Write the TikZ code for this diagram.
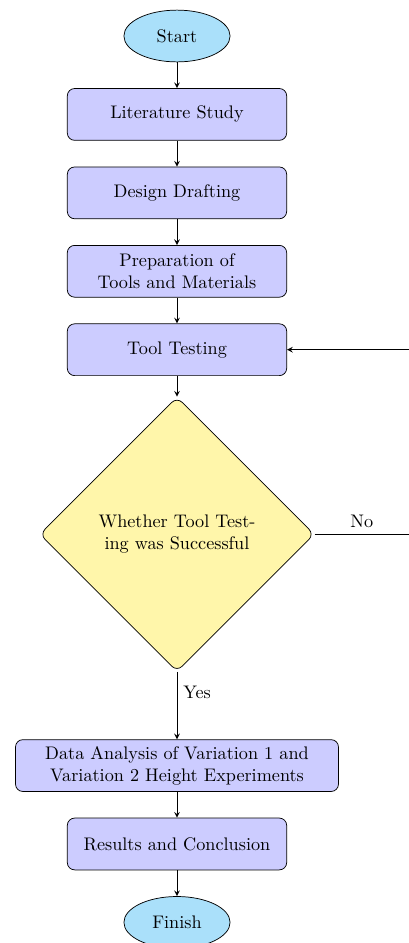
\documentclass[tikz,border=0pt]{standalone}
\usepackage{amsmath}
\usepackage{tikz}
\usetikzlibrary{shapes.geometric,positioning}

\definecolor{termfill}{RGB}{170,224,250}
\definecolor{askfill}{RGB}{255,246,170}

\begin{document}
\begin{tikzpicture}[node distance=0.5cm, auto, >=stealth,
	termnode/.style={ellipse,draw=black,fill=termfill,minimum width=2.05cm,minimum height=1cm},
	stepnode/.style={rectangle,draw=black,fill=blue!20,rounded corners,text width=4cm,align=center,minimum height=1cm},
	asknode/.style={diamond,draw=black,fill=askfill,rounded corners,align=center,inner sep=0pt,minimum width=5.3cm,minimum height=5.3cm}]
	\useasboundingbox (-3.417,0.695) rectangle (4.479,-17.51);
	\node[termnode] (Start) at (0,0) {Start};
	\node[stepnode] (LitStudy) [below = of Start] {Literature Study};
	\node[stepnode] (Drafting) [below = of LitStudy] {Design Drafting};
	\node[stepnode] (Prepare) [below = of Drafting] {Preparation of\\Tools and Materials};
	\node[stepnode] (ToolTest) [below = of Prepare] {Tool Testing};
	\node[asknode] (Success) [below = 0.4cm of ToolTest] {Whether Tool Test-\\ing was Successful};
	\node[stepnode, text width=6cm] (Analysis) [below = 1.3cm of Success] {Data Analysis of Variation 1 and Variation 2 Height Experiments};
	\node[stepnode] (Results) [below = of Analysis] {Results and Conclusion};
	\node[termnode] (Finish) [below = of Results] {Finish};
	\coordinate (RightEdge) at (4.479,0);
	\coordinate (NoEnd) at (Success.east -| RightEdge);
	\coordinate (BackIn) at (ToolTest.east -| RightEdge);
	\path[->] (Start) edge (LitStudy);
	\path[->] (LitStudy) edge (Drafting);
	\path[->] (Drafting) edge (Prepare);
	\path[->] (Prepare) edge (ToolTest);
	\path[->] (ToolTest) edge (Success);
	\path[->] (Success) edge node[pos=0.3, right] {Yes} (Analysis);
	\path[->] (Analysis) edge (Results);
	\path[->] (Results) edge (Finish);
	\path (Success.east) edge node[midway, above] {No} (NoEnd);
	\path[->] (BackIn) edge (ToolTest.east);
\end{tikzpicture}
\end{document}
